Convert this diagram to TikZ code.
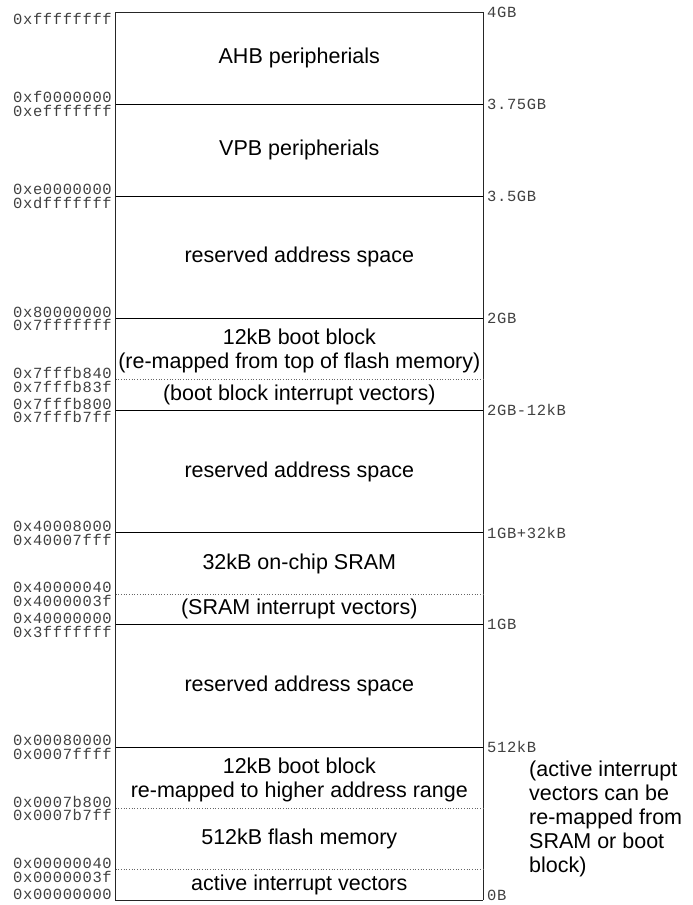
\documentclass[tikz,border=0pt]{standalone}
\usepackage{fontspec}
\setmainfont{Liberation Sans}
\setmonofont[LetterSpace=4]{Liberation Mono}
\begin{document}
\begin{tikzpicture}[x=1pt,y=-1pt,
  addr/.style={font=\fontsize{15.5}{17}\ttfamily, inner xsep=0pt, inner ysep=0.9pt, text=black!75},
  region/.style={font=\fontsize{21.5}{24}\selectfont, align=center, inner sep=0pt},
  cut/.style={line width=0.9pt},
  subcut/.style={dotted, line width=0.7pt, black!60}]
\useasboundingbox (0,0) rectangle (693,905);
% outline of the map
\draw[line width=0.9pt, black!85] (115.5,12.3) -- (483,12.3);
\draw[line width=0.9pt, black!85] (115.5,12.3) -- (115.5,900.3) -- (483,900.3);
\draw[line width=0.9pt, black!85] (483,12.3) -- (483,900.3);
% region boundaries
\draw[cut] (115.5,104.2) -- (483,104.2);
\draw[cut] (115.5,196.1) -- (483,196.1);
\draw[cut] (115.5,318.6) -- (483,318.6);
\draw[subcut] (115.5,379.8) -- (483,379.8);
\draw[cut] (115.5,410.4) -- (483,410.4);
\draw[cut] (115.5,532.9) -- (483,532.9);
\draw[subcut] (115.5,594.1) -- (483,594.1);
\draw[cut] (115.5,624.7) -- (483,624.7);
\draw[cut] (115.5,747.2) -- (483,747.2);
\draw[subcut] (115.5,808.4) -- (483,808.4);
\draw[subcut] (115.5,869.7) -- (483,869.7);
% region names
\node[region] (ahb) at (299.3,58.2) {AHB peripherials};
\node[region] (vpb) at (299.3,150.1) {VPB peripherials};
\node[region] (resA) at (299.3,257.3) {reserved address space};
\node[region] (bootA) at (299.3,351) {12kB boot block\\(re-mapped from top of flash memory)};
\node[region] (bootvec) at (299.3,394.6) {(boot block interrupt vectors)};
\node[region] (resB) at (299.3,471.6) {reserved address space};
\node[region] (sram) at (299.3,563.5) {32kB on-chip SRAM};
\node[region] (sramvec) at (299.3,609.4) {(SRAM interrupt vectors)};
\node[region] (resC) at (299.3,685.9) {reserved address space};
\node[region] (bootB) at (299.3,779.5) {12kB boot block\\re-mapped to higher address range};
\node[region] (flash) at (299.3,839.0) {512kB flash memory};
\node[region] (actvec) at (299.3,885.0) {active interrupt vectors};
\node[region, align=left, anchor=north west] (remark) at (529,761)
  {(active interrupt\\vectors can be\\re-mapped from\\SRAM or boot\\block)};
% addresses, left side
\node[addr, anchor=north east] (a0) at (112,12.3) {0xffffffff};
\node[addr, anchor=south east] (a1) at (112,104.2) {0xf0000000};
\node[addr, anchor=north east] (b1) at (112,104.2) {0xefffffff};
\node[addr, anchor=south east] (a2) at (112,196.1) {0xe0000000};
\node[addr, anchor=north east] (b2) at (112,196.1) {0xdfffffff};
\node[addr, anchor=south east] (a3) at (112,318.6) {0x80000000};
\node[addr, anchor=north east] (b3) at (112,318.6) {0x7fffffff};
\node[addr, anchor=south east] (a4) at (112,379.8) {0x7fffb840};
\node[addr, anchor=north east] (b4) at (112,379.8) {0x7fffb83f};
\node[addr, anchor=south east] (a5) at (112,410.4) {0x7fffb800};
\node[addr, anchor=north east] (b5) at (112,410.4) {0x7fffb7ff};
\node[addr, anchor=south east] (a6) at (112,532.9) {0x40008000};
\node[addr, anchor=north east] (b6) at (112,532.9) {0x40007fff};
\node[addr, anchor=south east] (a7) at (112,594.1) {0x40000040};
\node[addr, anchor=north east] (b7) at (112,594.1) {0x4000003f};
\node[addr, anchor=south east] (a8) at (112,624.7) {0x40000000};
\node[addr, anchor=north east] (b8) at (112,624.7) {0x3fffffff};
\node[addr, anchor=south east] (a9) at (112,747.2) {0x00080000};
\node[addr, anchor=north east] (b9) at (112,747.2) {0x0007ffff};
\node[addr, anchor=south east] (a10) at (112,808.4) {0x0007b800};
\node[addr, anchor=north east] (b10) at (112,808.4) {0x0007b7ff};
\node[addr, anchor=south east] (a11) at (112,869.7) {0x00000040};
\node[addr, anchor=north east] (b11) at (112,869.7) {0x0000003f};
\node[addr, anchor=south east] (a12) at (112,900.3) {0x00000000};
% sizes, right side
\node[addr, anchor=west] (s0) at (487,12.3) {4GB};
\node[addr, anchor=west] (s1) at (487,104.2) {3.75GB};
\node[addr, anchor=west] (s2) at (487,196.1) {3.5GB};
\node[addr, anchor=west] (s3) at (487,318.6) {2GB};
\node[addr, anchor=west] (s5) at (487,410.4) {2GB-12kB};
\node[addr, anchor=west] (s6) at (487,532.9) {1GB+32kB};
\node[addr, anchor=west] (s8) at (487,624.7) {1GB};
\node[addr, anchor=west] (s9) at (487,747.2) {512kB};
\node[addr, anchor=base west] (s12) at (487,900) {0B};
\end{tikzpicture}
\end{document}
